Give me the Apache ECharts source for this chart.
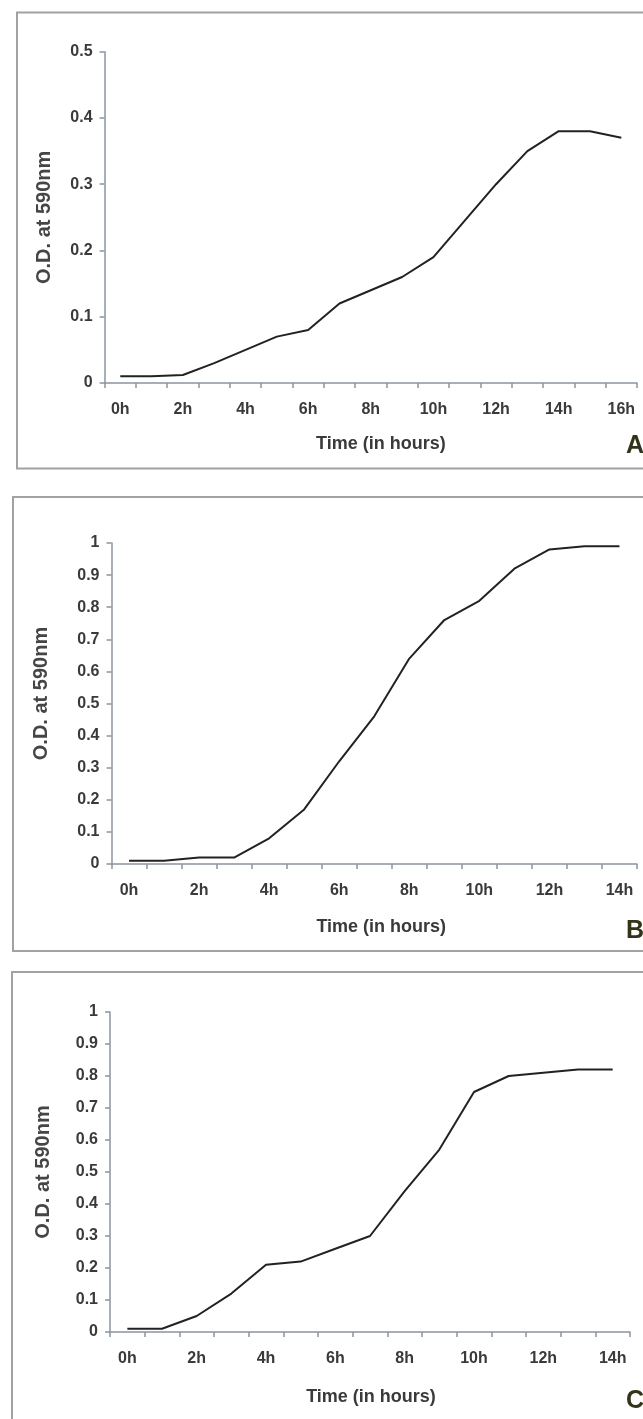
<!DOCTYPE html>
<html>
<head>
<meta charset="utf-8">
<script src="https://cdn.jsdelivr.net/npm/echarts@6/dist/echarts.min.js"></script>
<style>
  html, body { margin: 0; padding: 0; background: #fff; }
  #growth { width: 643px; height: 1419px; }
</style>
</head>
<body>
<div id="growth"></div>
<script>
// growth curves, O.D. at 590nm read hourly
var hoursA = ["0h", "1h", "2h", "3h", "4h", "5h", "6h", "7h", "8h", "9h", "10h", "11h", "12h", "13h", "14h", "15h", "16h"];
var odA = [0.01, 0.01, 0.012, 0.03, 0.05, 0.07, 0.08, 0.12, 0.14, 0.16, 0.19, 0.245, 0.30, 0.35, 0.38, 0.38, 0.37];

var hoursB = ["0h", "1h", "2h", "3h", "4h", "5h", "6h", "7h", "8h", "9h", "10h", "11h", "12h", "13h", "14h"];
var odB = [0.01, 0.01, 0.02, 0.02, 0.08, 0.17, 0.32, 0.46, 0.64, 0.76, 0.82, 0.92, 0.98, 0.99, 0.99];

var hoursC = ["0h", "1h", "2h", "3h", "4h", "5h", "6h", "7h", "8h", "9h", "10h", "11h", "12h", "13h", "14h"];
var odC = [0.01, 0.01, 0.05, 0.12, 0.21, 0.22, 0.26, 0.30, 0.44, 0.57, 0.75, 0.80, 0.81, 0.82, 0.82];

var yMaxA = 0.5, yMaxB = 1, yMaxC = 1;
var yStep = 0.1;
var xTitle = "Time (in hours)";
var yTitle = "O.D. at 590nm";
var panelTags = ["A", "B", "C"];

(function () {
  var myChart = echarts.init(document.getElementById("growth"));
  var font = "Liberation Sans, Arial, sans-serif";
  var axisCol = "#8c94a0";
  var txtCol = "#3a3a3a";

  function xAxis(idx, cats, gap, padLeft) {
    return {
      type: "category",
      gridIndex: idx,
      data: cats,
      boundaryGap: true,
      name: xTitle,
      nameLocation: "middle",
      nameGap: gap,
      nameTextStyle: { fontFamily: font, fontSize: 18, fontWeight: "bold", color: txtCol, padding: [0, 0, 0, padLeft] },
      axisLine: { lineStyle: { color: axisCol, width: 1.5 } },
      axisTick: { show: true, interval: 0, length: 5, lineStyle: { color: axisCol, width: 1.5 } },
      axisLabel: { interval: 1, margin: 19, fontFamily: font, fontSize: 16, fontWeight: "bold", color: txtCol },
      splitLine: { show: false }
    };
  }

  function yAxis(idx, max, gap, padBottom) {
    return {
      type: "value",
      gridIndex: idx,
      min: 0,
      max: max,
      interval: yStep,
      name: yTitle,
      nameLocation: "middle",
      nameGap: gap,
      nameTextStyle: { fontFamily: font, fontSize: 20, fontWeight: "bold", color: "#454545", padding: [0, 0, 0, padBottom] },
      axisLine: { show: true, lineStyle: { color: axisCol, width: 1.5 } },
      axisTick: { show: true, length: 5, lineStyle: { color: axisCol, width: 1.5 } },
      axisLabel: { margin: 12, fontFamily: font, fontSize: 16, fontWeight: "bold", color: txtCol },
      splitLine: { show: false }
    };
  }

  function curve(idx, values) {
    return {
      type: "line",
      xAxisIndex: idx,
      yAxisIndex: idx,
      data: values,
      showSymbol: false,
      symbol: "none",
      lineStyle: { color: "#222", width: 2 },
      animation: false
    };
  }

  function frame(x, y, h) {
    return {
      type: "rect",
      shape: { x: x, y: y, width: 700, height: h },
      style: { fill: null, stroke: "#a2a2a2", lineWidth: 2 },
      silent: true
    };
  }

  function tag(text, y) {
    return {
      type: "text",
      left: 626,
      top: y,
      style: { text: text, font: "bold 25px Liberation Sans, Arial, sans-serif", fill: "#33331a" },
      silent: true
    };
  }

  var option = {
    backgroundColor: "#fff",
    animation: false,
    grid: [
      { left: 104.6, top: 51.7, width: 532.4, height: 331.3 },
      { left: 111.5, top: 543, width: 525.5, height: 321 },
      { left: 110, top: 1012, width: 520, height: 320 }
    ],
    xAxis: [
      xAxis(0, hoursA, 52, 20),
      xAxis(1, hoursB, 54, 14),
      xAxis(2, hoursC, 56, 2)
    ],
    yAxis: [
      yAxis(0, yMaxA, 50, 0),
      yAxis(1, yMaxB, 60, 20),
      yAxis(2, yMaxC, 57, 0)
    ],
    series: [curve(0, odA), curve(1, odB), curve(2, odC)],
    graphic: [
      frame(17, 12.5, 456),
      frame(13, 497, 454),
      frame(12, 972, 500),
      tag(panelTags[0], 434),
      tag(panelTags[1], 919),
      tag(panelTags[2], 1389)
    ]
  };

  myChart.setOption(option);
})();
</script>
</body>
</html>
